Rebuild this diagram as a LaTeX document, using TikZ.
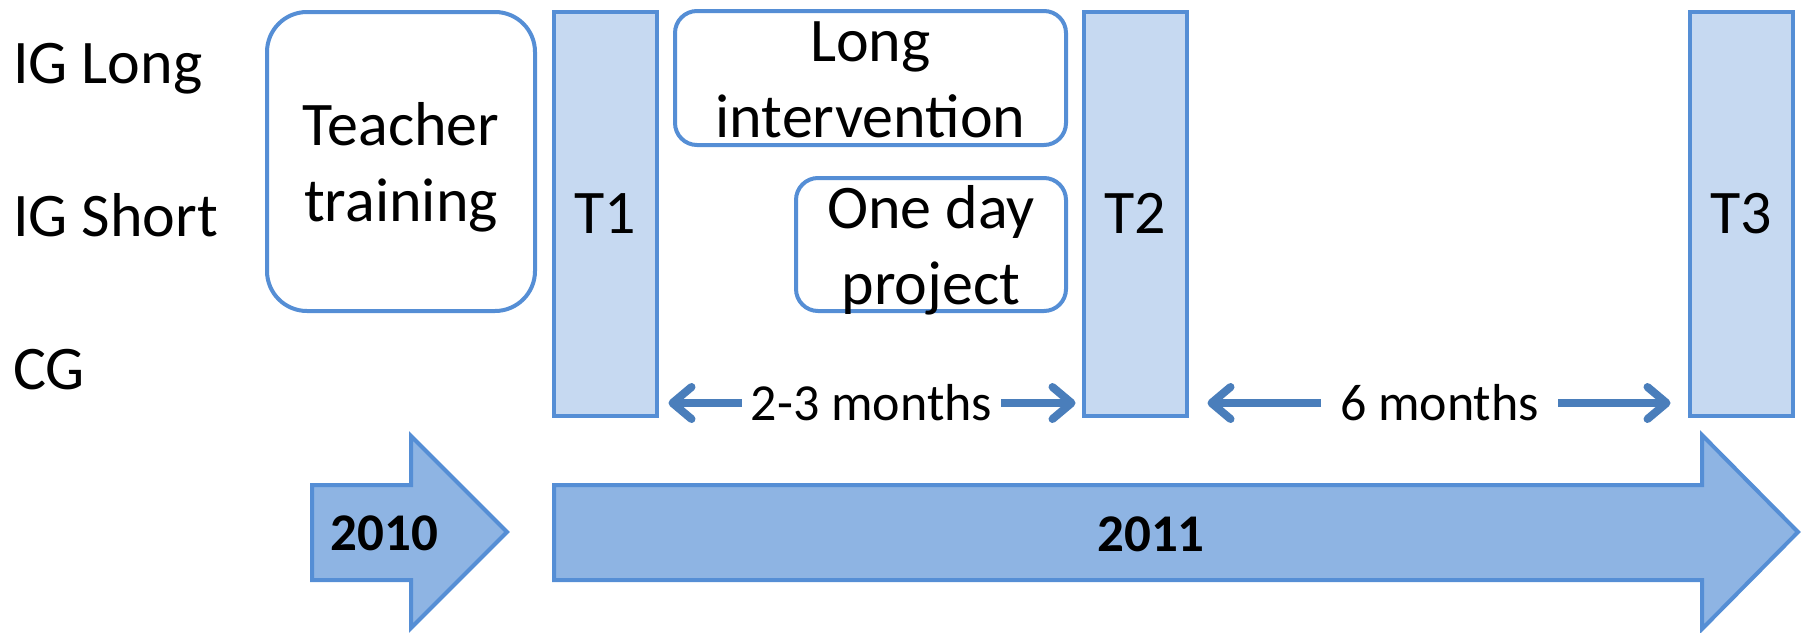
\documentclass[tikz,border=0pt]{standalone}
\usepackage{fontspec}
\setmainfont{Carlito}
\usetikzlibrary{arrows.meta,calc}
\definecolor{bord}{HTML}{558ED5}
\definecolor{tfill}{HTML}{C6D9F1}
\definecolor{afill}{HTML}{8EB4E3}
\definecolor{durc}{HTML}{4A7EBB}
\newcommand\lnstrut{\rule[-13pt]{0pt}{69pt}}
\tikzset{
  big/.style={font=\fontsize{62}{76}\selectfont},
  med/.style={font=\fontsize{52}{62}\selectfont},
  yr/.style={font=\bfseries\fontsize{53}{62}\selectfont},
  rbox/.style={draw=bord, line width=4pt, fill=white, inner sep=0pt},
  btext/.style={big, align=center, inner sep=0pt},
  tbox/.style={draw=bord, line width=4pt, fill=tfill, inner sep=0pt, minimum width=103pt, minimum height=404pt, big},
  yarrow/.style={draw=bord, line width=4pt, fill=afill, line join=miter},
  dur/.style={draw=durc, line width=8pt, -{Straight Barb[length=19pt,width=32pt,round]}},
  grp/.style={big, anchor=base west, inner sep=0pt},
}
\begin{document}
\begin{tikzpicture}[x=1pt,y=-1pt]
\useasboundingbox (0,0) rectangle (1803,632);
% group labels
\node[grp] (igl) at (13,83) {IG Long};
\node[grp] (igs) at (13,236) {IG Short};
\node[grp] (cg) at (13,389) {CG};
% boxes
\node[rbox, rounded corners=40pt, minimum width=268pt, minimum height=299pt] (train) at (401,161.5) {};
\node[btext] (trainT) at (train.center) {\lnstrut Teacher\\\lnstrut training};
\node[rbox, rounded corners=22pt, minimum width=391pt, minimum height=134pt] (long) at (870.5,78) {};
\node[btext] (longT) at (long.center) {\lnstrut Long\\\lnstrut intervention};
\node[rbox, rounded corners=22pt, minimum width=270pt, minimum height=133pt] (one) at (931,244.5) {};
\node[btext] (oneT) at (one.center) {\lnstrut One day\\\lnstrut project};
\node[tbox] (T1) at (605,213.5) {T1};
\node[tbox] (T2) at (1135,213.5) {T2};
\node[tbox] (T3) at (1741,213.5) {T3};
% year arrows
\draw[yarrow] (312,485) -- (411,485) -- (411,436) -- (507,532) -- (411,628) -- (411,580) -- (312,580) -- cycle;
\draw[yarrow] (554,485) -- (1702,485) -- (1702,435) -- (1798,532) -- (1702,629) -- (1702,580) -- (554,580) -- cycle;
\node[yr, anchor=base] (y10) at (384.5,550) {2010};
\node[yr, anchor=base] (y11) at (1151,551) {2011};
% durations
\node[med, inner sep=0pt, minimum width=259pt] (m1) at (871.5,403) {2-3 months};
\node[med, inner sep=0pt, minimum width=237pt] (m2) at (1439.5,403) {6 months};
\draw[dur] (m1.west) -- ([xshift=10pt]T1.east |- m1.west);
\draw[dur] (m1.east) -- ([xshift=-6pt]T2.west |- m1.east);
\draw[dur] (m2.west) -- ([xshift=19pt]T2.east |- m2.west);
\draw[dur] (m2.east) -- ([xshift=-17pt]T3.west |- m2.east);
\end{tikzpicture}
\end{document}
